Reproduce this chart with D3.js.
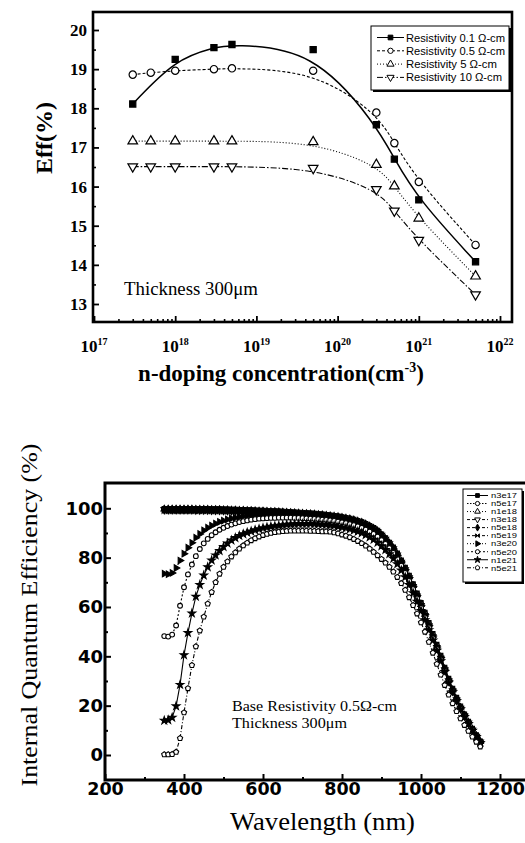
<!DOCTYPE html>
<html><head><meta charset="utf-8">
<script src="https://cdn.jsdelivr.net/npm/d3@7"></script>
<style>body{margin:0;background:#fff}svg{display:block}</style>
</head><body>
<svg id="c" width="525" height="843"></svg>
<script>
// ---------------- Top chart data ----------------
const dopingConc = [3e17, 5e17, 1e18, 3e18, 5e18, 5e19, 3e20, 5e20, 1e21, 5e21];
const effRes01 = [18.11, null, 19.25, 19.55, 19.63, 19.50, 17.58, 16.70, 15.66, 14.08];
const effRes05 = [18.86, 18.91, 18.96, 19.00, 19.02, 18.96, 17.89, 17.11, 16.12, 14.51];
const effRes5  = [17.16, 17.16, 17.16, 17.16, 17.16, 17.14, 16.56, 16.01, 15.19, 13.71];
const effRes10 = [16.51, 16.51, 16.51, 16.51, 16.51, 16.47, 15.93, 15.38, 14.63, 13.24];
const effTicks = [13, 14, 15, 16, 17, 18, 19, 20];
const concTickExp = [17, 18, 19, 20, 21, 22];
const topLegend = ["Resistivity 0.1 \u03A9-cm", "Resistivity 0.5 \u03A9-cm", "Resistivity 5 \u03A9-cm", "Resistivity 10 \u03A9-cm"];

// ---------------- Bottom chart data ----------------
const wavelength = [350,360,370,380,390,400,410,420,430,440,450,460,470,480,490,500,510,520,530,540,
550,560,570,580,590,600,610,620,630,640,650,660,670,680,690,700,710,720,730,740,
750,760,770,780,790,800,810,820,830,840,850,860,870,880,890,900,910,920,930,940,
950,960,970,980,990,1000,1010,1020,1030,1040,1050,1060,1070,1080,1090,1100,1110,1120,1130,1140,1150];
const iqe_n3e17 = [99.9,99.9,99.9,99.9,99.9,99.9,99.9,99.9,99.8,99.8,
99.8,99.8,99.7,99.7,99.7,99.6,99.6,99.5,99.5,99.4,
99.4,99.3,99.3,99.2,99.1,99.1,99.0,98.9,98.9,98.8,
98.7,98.6,98.5,98.4,98.3,98.2,98.1,98.0,97.9,97.7,
97.6,97.4,97.2,97.0,96.8,96.5,96.2,95.9,95.5,95.0,
94.5,93.8,93.0,92.1,91.0,89.5,88.0,86.2,84.2,81.8,
79.0,76.0,72.8,69.3,65.6,61.7,57.8,53.6,49.2,44.8,
40.4,35.5,31.0,27.0,23.3,19.8,16.6,13.6,10.8,8.1,
5.6];
const iqe_n5e17 = [99.8,99.8,99.8,99.8,99.8,99.8,99.8,99.8,99.7,99.7,
99.7,99.7,99.6,99.6,99.6,99.5,99.5,99.4,99.4,99.3,
99.3,99.2,99.2,99.1,99.0,99.0,98.9,98.8,98.8,98.7,
98.6,98.5,98.4,98.3,98.2,98.1,98.0,97.9,97.8,97.6,
97.5,97.3,97.1,96.9,96.7,96.4,96.1,95.8,95.4,94.9,
94.4,93.7,92.9,92.0,90.9,89.4,87.8,86.0,84.0,81.5,
78.7,75.7,72.5,69.0,65.2,61.3,57.4,53.2,48.8,44.4,
40.0,35.2,30.7,26.7,23.0,19.6,16.4,13.4,10.6,7.9,
5.5];
const iqe_n1e18 = [99.7,99.7,99.7,99.7,99.7,99.7,99.7,99.7,99.6,99.6,
99.6,99.6,99.5,99.5,99.5,99.4,99.4,99.3,99.3,99.2,
99.2,99.1,99.1,99.0,98.9,98.9,98.8,98.7,98.7,98.6,
98.5,98.4,98.3,98.2,98.1,98.0,97.9,97.8,97.7,97.5,
97.4,97.2,97.0,96.8,96.6,96.3,96.0,95.7,95.3,94.8,
94.3,93.6,92.8,91.9,90.8,89.3,87.7,85.9,83.8,81.3,
78.5,75.4,72.2,68.7,64.9,61.0,57.0,52.8,48.4,44.0,
39.7,34.9,30.4,26.4,22.7,19.3,16.2,13.2,10.4,7.8,
5.4];
const iqe_n3e18 = [99.5,99.5,99.5,99.5,99.5,99.5,99.5,99.5,99.4,99.4,
99.4,99.4,99.3,99.3,99.3,99.2,99.2,99.1,99.1,99.0,
99.0,98.9,98.9,98.8,98.7,98.7,98.6,98.5,98.5,98.4,
98.3,98.2,98.1,98.0,97.9,97.8,97.7,97.6,97.5,97.3,
97.2,97.0,96.8,96.6,96.4,96.1,95.8,95.5,95.1,94.6,
94.1,93.4,92.6,91.7,90.6,89.1,87.5,85.7,83.6,81.1,
78.2,75.1,71.9,68.3,64.5,60.6,56.6,52.4,48.0,43.6,
39.3,34.6,30.1,26.1,22.4,19.0,15.9,13.0,10.2,7.6,
5.3];
const iqe_n5e18 = [99.3,99.3,99.3,99.3,99.3,99.3,99.3,99.3,99.2,99.2,
99.2,99.2,99.1,99.1,99.1,99.0,99.0,98.9,98.9,98.8,
98.8,98.7,98.7,98.6,98.5,98.5,98.4,98.3,98.3,98.2,
98.1,98.0,97.9,97.8,97.7,97.6,97.5,97.4,97.3,97.1,
97.0,96.8,96.6,96.4,96.2,95.9,95.6,95.3,94.9,94.4,
93.9,93.2,92.4,91.5,90.4,88.9,87.3,85.5,83.4,80.9,
78.0,74.9,71.6,68.0,64.2,60.3,56.3,52.1,47.7,43.3,
39.0,34.3,29.8,25.8,22.1,18.8,15.7,12.8,10.0,7.5,
5.2];
const iqe_n5e19 = [98.9,98.9,98.9,98.9,98.9,98.9,98.9,98.9,98.9,98.9,
98.9,98.9,98.8,98.8,98.8,98.7,98.7,98.6,98.6,98.5,
98.5,98.4,98.4,98.3,98.2,98.2,98.1,98.0,98.0,97.9,
97.8,97.7,97.6,97.5,97.4,97.3,97.2,97.1,97.0,96.8,
96.7,96.5,96.3,96.1,95.9,95.6,95.3,95.0,94.6,94.1,
93.6,92.9,92.1,91.2,90.1,88.6,87.0,85.2,83.1,80.6,
77.7,74.6,71.3,67.7,63.9,60.0,56.0,51.8,47.4,43.0,
38.7,34.0,29.5,25.5,21.9,18.6,15.5,12.6,9.9,7.4,
5.1];
const iqe_n3e20 = [73.5,73.3,73.8,75.8,78.8,81.6,84.0,86.0,88.1,89.6,
91.0,92.1,93.0,93.8,94.5,95.0,95.5,95.9,96.2,96.5,
96.8,97.0,97.2,97.3,97.4,97.5,97.6,97.6,97.7,97.7,
97.7,97.7,97.6,97.6,97.5,97.4,97.3,97.2,97.1,96.9,
96.8,96.6,96.4,96.2,96.0,95.7,95.4,95.1,94.7,94.2,
93.7,93.0,92.2,91.3,90.2,88.8,87.3,85.5,83.5,81.0,
78.2,75.1,71.9,68.4,64.6,60.7,56.8,52.6,48.2,43.8,
39.5,34.8,30.3,26.3,22.6,19.2,16.1,13.1,10.3,7.7,
5.3];
const iqe_n5e20 = [48.2,48.0,48.8,52.5,60.5,68.0,73.2,77.2,80.6,83.5,
85.8,87.6,89.1,90.3,91.3,92.1,92.8,93.4,93.9,94.4,
94.8,95.1,95.4,95.6,95.8,95.9,96.0,96.1,96.1,96.2,
96.2,96.2,96.2,96.1,96.1,96.0,95.9,95.8,95.7,95.6,
95.4,95.3,95.1,94.9,94.6,94.3,94.0,93.6,93.2,92.7,
92.1,91.4,90.6,89.6,88.5,87.1,85.6,83.9,81.9,79.5,
76.8,73.8,70.6,67.2,63.5,59.7,55.8,51.7,47.4,43.1,
38.8,34.2,29.8,25.8,22.1,18.8,15.7,12.8,10.1,7.6,
5.1];
const iqe_n1e21 = [14.0,14.2,15.2,19.8,28.5,40.5,49.5,57.4,64.2,69.0,
72.8,76.2,78.9,81.0,82.8,84.4,85.8,87.0,88.0,88.9,
89.6,90.2,90.7,91.2,91.6,92.0,92.3,92.6,92.8,93.0,
93.2,93.4,93.5,93.6,93.7,93.7,93.7,93.7,93.6,93.5,
93.4,93.3,93.1,92.9,92.6,92.3,92.0,91.6,91.1,90.6,
90.0,89.2,88.3,87.3,86.1,84.7,83.2,81.5,79.6,77.4,
74.9,72.1,69.0,65.7,62.2,58.5,54.7,50.7,46.5,42.3,
38.1,33.7,29.4,25.5,21.9,18.5,15.4,12.6,9.9,7.4,
5.0];
const iqe_n5e21 = [0.2,0.2,0.3,1.2,6.8,17.2,27.0,36.4,44.0,50.4,
56.0,61.3,66.0,70.0,73.4,76.2,78.4,80.4,82.1,83.6,
84.9,86.0,87.0,87.8,88.5,89.1,89.6,90.0,90.3,90.5,
90.7,90.8,90.9,90.9,90.9,90.9,90.9,90.8,90.8,90.7,
90.6,90.6,90.5,90.2,89.8,89.3,88.8,88.2,87.5,86.7,
85.8,84.8,83.6,82.3,80.9,79.4,77.9,76.2,74.3,72.1,
69.6,66.9,63.9,60.7,57.3,53.7,49.9,45.8,41.4,36.9,
32.5,28.3,24.4,20.9,17.7,14.8,12.1,9.7,7.4,5.3,
3.4];
const iqeTicks = [0, 20, 40, 60, 80, 100];
const iqeMinor = [10, 30, 50, 70, 90];
const wlTicks = [200, 400, 600, 800, 1000, 1200];
const wlMinor = [300, 500, 700, 900, 1100];

// ---------------- helpers ----------------
const svg = d3.select("#c");
const SERIF = "'Liberation Serif','Times New Roman',serif";
const SANS = "'Liberation Sans',Arial,sans-serif";

const bowtie = { draw(ctx, size){ const s = Math.sqrt(size)/2; ctx.moveTo(-s,-s); ctx.lineTo(s,s); ctx.lineTo(s,-s); ctx.lineTo(-s,s); ctx.closePath(); } };
const pentagon = { draw(ctx, size){ const r = Math.sqrt(size/2.378); for(let i=0;i<5;i++){ const a=-Math.PI/2+i*2*Math.PI/5; if(i) ctx.lineTo(r*Math.cos(a), r*Math.sin(a)); else ctx.moveTo(r*Math.cos(a), r*Math.sin(a)); } ctx.closePath(); } };

function marker(g, x, y, spec, size, sw){
  g.append("path")
    .attr("d", d3.symbol(spec.sym, size)())
    .attr("transform", `translate(${x},${y}) rotate(${spec.rot||0})`)
    .attr("fill", spec.fill).attr("stroke", "#000").attr("stroke-width", sw);
}

// =============== TOP CHART ===============
{
  const L = 93, T = 12, R = 512, B = 322;
  const x = d3.scaleLog().domain([1e17, 1e22]).range([94, 500]);
  const y = d3.scaleLinear().domain([13, 20]).range([304, 30]);
  const g = svg.append("g");

  g.append("g").attr("transform", `translate(${L},0)`)
    .call(d3.axisLeft(y).tickValues(effTicks.slice(0,-1).map(v=>v+0.5)).tickSize(-3).tickFormat(""))
    .call(a=>a.select(".domain").remove()).selectAll("line").attr("stroke-width",1.6);
  const ya = g.append("g").attr("transform", `translate(${L},0)`)
    .call(d3.axisLeft(y).tickValues(effTicks).tickSize(-6).tickPadding(6).tickFormat(d3.format("d")));
  ya.select(".domain").remove();
  ya.selectAll("line").attr("stroke-width",1.8);
  ya.selectAll("text").attr("font-family", SERIF).attr("font-weight","bold").attr("font-size",17).attr("fill","#000");

  const minorX = x.ticks().filter(v => Math.abs(Math.log10(v) - Math.round(Math.log10(v))) > 1e-6);
  g.append("g").attr("transform", `translate(0,${B})`)
    .call(d3.axisBottom(x).tickValues(minorX).tickSize(-3).tickFormat(""))
    .call(a=>a.select(".domain").remove()).selectAll("line").attr("stroke-width",1.6);
  const xa = g.append("g").attr("transform", `translate(0,${B})`)
    .call(d3.axisBottom(x).tickValues(concTickExp.map(e=>Math.pow(10,e))).tickSize(-6).tickFormat(""));
  xa.select(".domain").remove();
  xa.selectAll("line").attr("stroke-width",1.8);
  concTickExp.forEach(e => {
    const t = g.append("text").attr("x", x(Math.pow(10,e))).attr("y", 352)
      .attr("text-anchor","middle").attr("font-family",SERIF).attr("font-weight","bold").attr("font-size",17);
    t.append("tspan").text("10");
    t.append("tspan").attr("font-size",10).attr("dy",-7).text(e);
  });

  g.append("rect").attr("x",L).attr("y",T).attr("width",R-L).attr("height",B-T)
    .attr("fill","none").attr("stroke","#000").attr("stroke-width",2.6);

  const series = [
    {vals: effRes01, dash: null, sym: d3.symbolSquare, fill: "#000", size: 38},
    {vals: effRes05, dash: "3,2", sym: d3.symbolCircle, fill: "#fff", size: 42},
    {vals: effRes5,  dash: "1,2", sym: d3.symbolTriangle, fill: "#fff", size: 40},
    {vals: effRes10, dash: "6,2,1.5,2", sym: d3.symbolTriangle, rot: 180, fill: "#fff", size: 40}
  ];
  const line = d3.line().x(d=>x(d[0])).y(d=>y(d[1])).curve(d3.curveBasis);
  series.forEach(s => {
    const pts = dopingConc.map((c,i)=>[c, s.vals[i]]).filter(d=>d[1]!=null);
    g.append("path").attr("d", line(pts)).attr("fill","none").attr("stroke","#000")
      .attr("stroke-width", s.dash ? 1.1 : 1.5).attr("stroke-dasharray", s.dash);
    pts.forEach(p => marker(g, x(p[0]), y(p[1]), s, s.size, 1.2));
  });

  g.append("text").attr("x",124).attr("y",295).attr("font-family",SERIF).attr("font-size",18)
    .attr("textLength",134).attr("lengthAdjust","spacingAndGlyphs").text("Thickness 300\u03BCm");

  const lg = g.append("g");
  lg.append("rect").attr("x",373).attr("y",28).attr("width",138).attr("height",64).attr("fill","#000");
  lg.append("rect").attr("x",371).attr("y",26).attr("width",138).attr("height",64).attr("fill","#fff").attr("stroke","#000").attr("stroke-width",1);
  const lw = [99, 99, 91, 96];
  topLegend.forEach((name,i) => {
    const yy = 37.5 + i*13.3;
    const s = series[i];
    lg.append("line").attr("x1",377).attr("x2",404).attr("y1",yy).attr("y2",yy)
      .attr("stroke","#000").attr("stroke-width",1).attr("stroke-dasharray", s.dash);
    marker(lg, 390.5, yy, s, 22, 1);
    lg.append("text").attr("x",406).attr("y",yy+4).attr("font-family",SANS).attr("font-size",11.5)
      .attr("textLength",lw[i]).attr("lengthAdjust","spacingAndGlyphs").text(name);
  });

  g.append("text").attr("transform","translate(52,138) rotate(-90)").attr("text-anchor","middle")
    .attr("font-family",SERIF).attr("font-weight","bold").attr("font-size",24).text("Eff(%)");
  const xt = g.append("text").attr("x",281).attr("y",381).attr("text-anchor","middle")
    .attr("font-family",SERIF).attr("font-weight","bold").attr("font-size",23);
  xt.append("tspan").text("n-doping concentration(cm");
  xt.append("tspan").attr("font-size",14).attr("dy",-9).text("-3");
  xt.append("tspan").attr("dy",9).text(")");
}

// =============== BOTTOM CHART ===============
{
  const L = 105, T = 483, R = 530, B = 780;
  const x = d3.scaleLinear().domain([200, 1200]).range([105, 500]);
  const y = d3.scaleLinear().domain([0, 100]).range([755, 508.3]);
  const g = svg.append("g");

  g.append("g").attr("transform", `translate(${L},0)`)
    .call(d3.axisLeft(y).tickValues(iqeMinor).tickSize(-3).tickFormat(""))
    .call(a=>a.select(".domain").remove()).selectAll("line").attr("stroke-width",2);
  const ya = g.append("g").attr("transform", `translate(${L},0)`)
    .call(d3.axisLeft(y).tickValues(iqeTicks).tickSize(-6).tickPadding(2).tickFormat(d3.format("d")));
  ya.select(".domain").remove();
  ya.selectAll("line").attr("stroke-width",2);
  ya.selectAll("text").attr("font-family","'DejaVu Sans',sans-serif").attr("font-weight","bold").attr("font-size",18).attr("fill","#000");

  g.append("g").attr("transform", `translate(0,${B})`)
    .call(d3.axisBottom(x).tickValues(wlMinor).tickSize(-3).tickFormat(""))
    .call(a=>a.select(".domain").remove()).selectAll("line").attr("stroke-width",2);
  const xa = g.append("g").attr("transform", `translate(0,${B})`)
    .call(d3.axisBottom(x).tickValues(wlTicks).tickSize(-6).tickPadding(3).tickFormat(d3.format("d")));
  xa.select(".domain").remove();
  xa.selectAll("line").attr("stroke-width",2);
  xa.selectAll("text").attr("font-family","'DejaVu Sans',sans-serif").attr("font-weight","bold").attr("font-size",17.5).attr("fill","#000");

  g.append("rect").attr("x",L).attr("y",T).attr("width",R-L).attr("height",B-T)
    .attr("fill","none").attr("stroke","#000").attr("stroke-width",3);

  const series = [
    {name:"n3e17", vals:iqe_n3e17, sym:d3.symbolSquare,   fill:"#000", dash:null},
    {name:"n5e17", vals:iqe_n5e17, sym:d3.symbolCircle,   fill:"#fff", dash:"1.5,1.5"},
    {name:"n1e18", vals:iqe_n1e18, sym:d3.symbolTriangle, fill:"#fff", dash:"1,2"},
    {name:"n3e18", vals:iqe_n3e18, sym:d3.symbolTriangle, rot:180, fill:"#fff", dash:"3,2"},
    {name:"n5e18", vals:iqe_n5e18, sym:d3.symbolDiamond,  fill:"#000", dash:"3,2"},
    {name:"n5e19", vals:iqe_n5e19, sym:bowtie,            fill:"#000", dash:"3,2"},
    {name:"n3e20", vals:iqe_n3e20, sym:d3.symbolTriangle, rot:90, fill:"#000", dash:"1,2"},
    {name:"n5e20", vals:iqe_n5e20, sym:d3.symbolCircle,   fill:"#fff", dash:"2,2"},
    {name:"n1e21", vals:iqe_n1e21, sym:d3.symbolStar,     fill:"#000", dash:null},
    {name:"n5e21", vals:iqe_n5e21, sym:pentagon,          fill:"#fff", dash:"4,2,1,2"}
  ];
  const line = d3.line().x(d=>x(d[0])).y(d=>y(d[1]));
  series.forEach(s => {
    const pts = wavelength.map((w,i)=>[w, s.vals[i]]);
    g.append("path").attr("d", line(pts)).attr("fill","none").attr("stroke","#000")
      .attr("stroke-width",1.1).attr("stroke-dasharray", s.dash);
    pts.forEach(p => marker(g, x(p[0]), y(p[1]), s, 18, 1.1));
  });

  g.append("text").attr("x",232).attr("y",711).attr("font-family",SERIF).attr("font-size",15)
    .attr("textLength",165).attr("lengthAdjust","spacingAndGlyphs").text("Base Resistivity 0.5\u03A9-cm");
  g.append("text").attr("x",232).attr("y",728).attr("font-family",SERIF).attr("font-size",15)
    .attr("textLength",115).attr("lengthAdjust","spacingAndGlyphs").text("Thickness 300\u03BCm");

  const lg = g.append("g");
  lg.append("rect").attr("x",465).attr("y",491).attr("width",59).attr("height",93).attr("fill","#000");
  lg.append("rect").attr("x",463).attr("y",489).attr("width",59).attr("height",93).attr("fill","#fff").attr("stroke","#000").attr("stroke-width",1);
  series.forEach((s,i) => {
    const yy = 495.5 + i*8.03;
    lg.append("line").attr("x1",467).attr("x2",488).attr("y1",yy).attr("y2",yy)
      .attr("stroke","#000").attr("stroke-width",1).attr("stroke-dasharray", s.dash);
    marker(lg, 477.5, yy, s, 14, 1);
    lg.append("text").attr("x",491).attr("y",yy+2.8).attr("font-family",SANS).attr("font-size",7.8)
      .attr("textLength",26).attr("lengthAdjust","spacingAndGlyphs").text(s.name);
  });

  g.append("text").attr("transform","translate(37,615) rotate(-90)").attr("text-anchor","middle")
    .attr("font-family",SERIF).attr("font-size",24).attr("textLength",343).attr("lengthAdjust","spacingAndGlyphs")
    .text("Internal Quantum Efficiency (%)");
  g.append("text").attr("x",322.5).attr("y",830).attr("text-anchor","middle")
    .attr("font-family",SERIF).attr("font-size",26).attr("textLength",185).attr("lengthAdjust","spacingAndGlyphs")
    .text("Wavelength (nm)");
}
</script>
</body></html>
